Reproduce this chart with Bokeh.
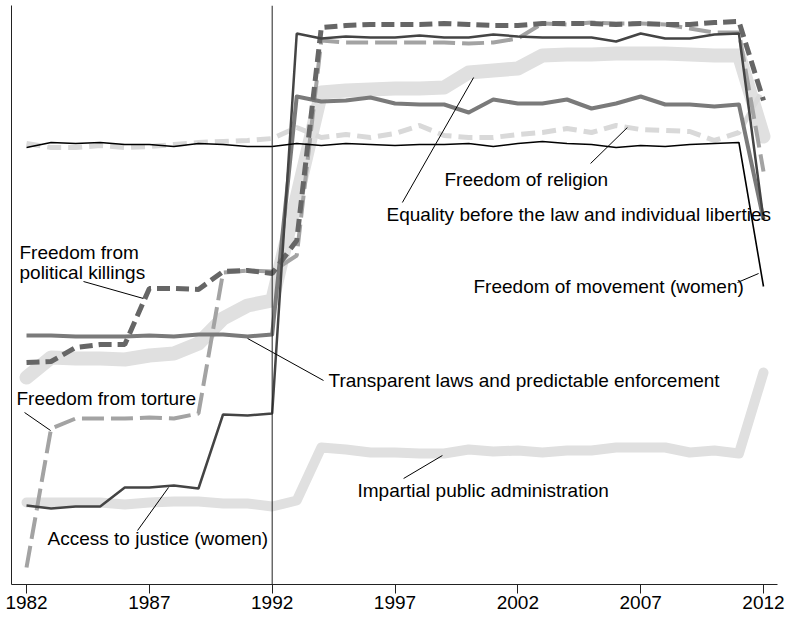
from bokeh.plotting import figure
from bokeh.models import Range1d, Span, Label, FixedTicker
from bokeh.embed import file_html
from bokeh.resources import INLINE

# ---- data (unlabelled index scale) ----
years = list(range(1982, 2013))

movement_women = [437, 442, 441, 442, 440, 440, 438, 441, 440, 438, 438, 441, 439, 441, 440, 439,
                  440, 440, 441, 438, 441, 443, 441, 440, 437, 439, 438, 440, 441, 442, 298]
religion = [441, 437, 437, 439, 437, 438, 440, 442, 443, 444, 446, 457, 447, 450, 447, 451,
            459, 449, 447, 447, 450, 452, 456, 452, 459, 455, 454, 453, 444, 452, 496]
equality = [207, 227, 226, 226, 225, 229, 231, 241, 266, 279, 284, 387, 492, 494, 495, 496,
            496, 497, 512, 514, 516, 529, 530, 530, 531, 531, 531, 530, 529, 529, 448]
transparent = [249, 249, 248, 248, 248, 249, 248, 250, 250, 248, 250, 488, 483, 484, 487, 481,
               480, 480, 472, 485, 481, 481, 485, 476, 481, 488, 480, 480, 478, 480, 365]
access_women = [79, 76, 78, 78, 97, 97, 99, 96, 170, 169, 171, 551, 546, 548, 547, 547,
                549, 547, 547, 550, 548, 547, 547, 547, 543, 551, 546, 546, 550, 551, 365]
killings = [222, 223, 237, 240, 240, 296, 296, 295, 313, 314, 311, 344, 557, 559, 560, 560,
            560, 561, 560, 559, 559, 561, 561, 561, 560, 561, 560, 560, 562, 563, 484]
torture = [17, 156, 166, 166, 166, 167, 166, 171, 312, 314, 313, 329, 544, 542, 542, 542,
           542, 542, 541, 542, 546, 561, 560, 562, 561, 561, 560, 556, 552, 552, 413]
impartial = [82, 82, 82, 82, 80, 82, 83, 83, 81, 81, 78, 84, 137, 135, 132, 132,
             131, 131, 135, 133, 134, 132, 134, 134, 137, 137, 137, 132, 134, 131, 212]

tick_years = [1982, 1987, 1992, 1997, 2002, 2007, 2012]
break_year = 1992

FONT = "Liberation Sans"

p = figure(width=787, height=619, output_backend="svg", toolbar_location=None,
           x_range=Range1d(1981.389, 2012.57), y_range=Range1d(0, 579),
           min_border_left=11, min_border_right=10, min_border_top=5, min_border_bottom=35)
p.outline_line_color = None
p.grid.visible = False
p.background_fill_color = "white"
p.border_fill_color = "white"

ax = p.xaxis[0]
ax.ticker = FixedTicker(ticks=tick_years)
ax.major_label_text_font = FONT
ax.major_label_text_font_size = "19px"
ax.major_label_text_color = "black"
ax.major_tick_out = 9
ax.major_tick_in = 0
ax.minor_tick_out = 0
ax.minor_tick_in = 0
ax.major_label_standoff = 2
ax.axis_line_color = "#222222"
ax.major_tick_line_color = "#222222"

ay = p.yaxis[0]
ay.ticker = FixedTicker(ticks=[])
ay.major_label_text_font_size = "0px"
ay.major_tick_out = 0
ay.major_tick_in = 0
ay.minor_tick_out = 0
ay.minor_tick_in = 0
ay.major_label_standoff = 0
ay.axis_line_color = "#222222"

# series (back to front)
p.line(years, equality, line_color="#e0e0e0", line_width=14, line_cap="round", line_join="round")
p.line(years, impartial, line_color="#e0e0e0", line_width=10, line_cap="round", line_join="round")
p.line(years, religion, line_color="#d9d9d9", line_width=5, line_dash="14 7")
p.line(years, torture, line_color="#a3a3a3", line_width=4, line_dash="22 7")
p.line(years, transparent, line_color="#7a7a7a", line_width=4, line_join="round")
p.line(years, killings, line_color="#666666", line_width=5, line_dash="13 6")
p.line(years, access_women, line_color="#444444", line_width=2.5)
p.line(years, movement_women, line_color="#000000", line_width=1.6)

p.add_layout(Span(location=break_year, dimension="height", line_color="#222222", line_width=1))

# annotations: (text, x, y, leader x0, y0, x1, y1)
notes = [
    ("Freedom from", 1981.715, 332, None),
    ("political killings", 1981.715, 312, (1984.32, 303, 1986.76, 286)),
    ("Freedom from torture", 1981.593, 186, (1981.92, 172, 1982.98, 154)),
    ("Transparent laws and predictable enforcement", 1994.293, 204, (1991.0, 246, 1994.09, 204)),
    ("Access to justice (women)", 1982.855, 46, (1987.78, 97, 1986.52, 54)),
    ("Impartial public administration", 1995.473, 94, (1998.93, 129, 1997.35, 106)),
    ("Freedom of religion", 1999.014, 405, (2006.46, 457, 2004.96, 421)),
    ("Equality before the law and individual liberties", 1996.654, 370, (2000.2, 507, 1997.3, 382)),
    ("Freedom of movement (women)", 2000.195, 298, (2011.8, 311, 2010.94, 302)),
]
for text, x, y, leader in notes:
    if leader is not None:
        p.line([leader[0], leader[2]], [leader[1], leader[3]], line_color="black", line_width=1)
    p.add_layout(Label(x=x, y=y, text=text, text_font=FONT, text_font_size="19px",
                       text_color="black", text_baseline="middle", text_align="left"))

open("out.html", "w").write(file_html(p, INLINE))
